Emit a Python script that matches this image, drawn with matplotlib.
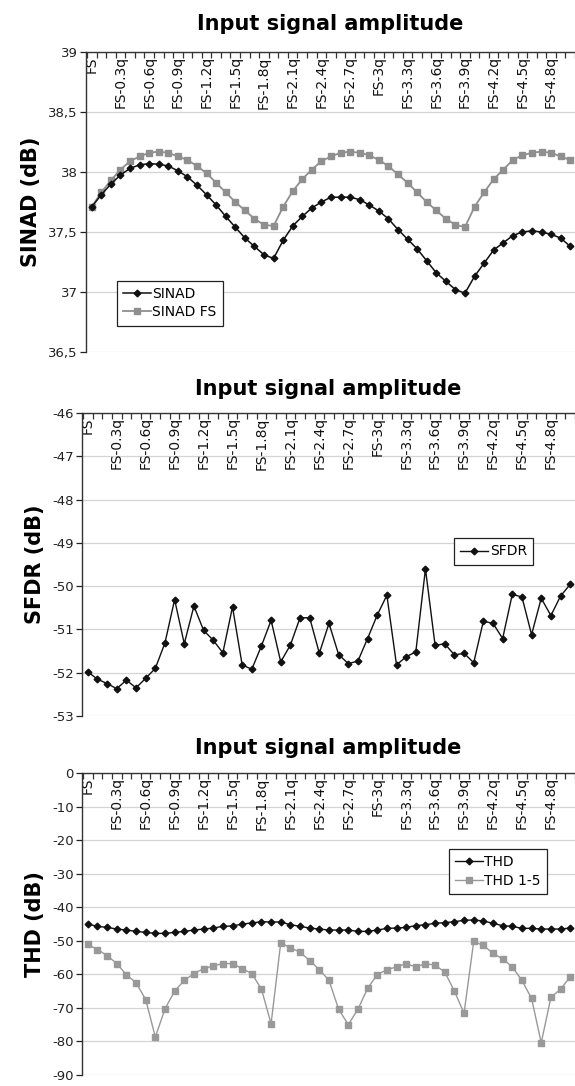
import numpy as np
import matplotlib
matplotlib.use("Agg")
from matplotlib import pyplot as plt

plt.rcParams['font.family'] = ['DejaVu Sans']
plt.rcParams['axes.unicode_minus'] = False

# amplitude steps: FS, FS-0.1q ... FS-5q
steps = np.arange(51)
step_labels = ["FS"] + ["FS-%gq" % (k / 10) for k in range(3, 49, 3)]
label_pos = np.arange(0, 49, 3)

sinad = [37.71, 37.81, 37.90, 37.975, 38.03, 38.06, 38.07, 38.065, 38.05, 38.01,
         37.96, 37.89, 37.81, 37.725, 37.63, 37.54, 37.45, 37.38, 37.31, 37.28,
         37.43, 37.55, 37.63, 37.70, 37.75, 37.79, 37.79, 37.79, 37.77, 37.725,
         37.675, 37.61, 37.52, 37.44, 37.36, 37.26, 37.16, 37.09, 37.02, 36.99,
         37.13, 37.24, 37.35, 37.41, 37.47, 37.50, 37.51, 37.50, 37.48, 37.45,
         37.38]
sinad_fs = [37.71, 37.83, 37.93, 38.02, 38.09, 38.13, 38.16, 38.17, 38.16, 38.13,
            38.10, 38.05, 37.99, 37.91, 37.83, 37.75, 37.68, 37.61, 37.56, 37.55,
            37.71, 37.84, 37.94, 38.02, 38.09, 38.13, 38.16, 38.17, 38.16, 38.14,
            38.10, 38.05, 37.98, 37.91, 37.83, 37.75, 37.68, 37.61, 37.56, 37.54,
            37.71, 37.83, 37.94, 38.02, 38.10, 38.14, 38.16, 38.17, 38.16, 38.13,
            38.10]
sfdr = [-51.98, -52.15, -52.25, -52.37, -52.17, -52.35, -52.13, -51.90, -51.31, -50.31,
        -51.33, -50.46, -51.02, -51.25, -51.54, -50.48, -51.82, -51.92, -51.38, -50.79,
        -51.75, -51.36, -50.73, -50.73, -51.55, -50.86, -51.58, -51.79, -51.73, -51.21,
        -50.67, -50.21, -51.82, -51.63, -51.52, -49.60, -51.37, -51.33, -51.59, -51.55,
        -51.77, -50.81, -50.86, -51.21, -50.19, -50.25, -51.12, -50.28, -50.68, -50.23,
        -49.96]
thd = [-45.0, -45.7, -46.0, -46.5, -46.8, -47.2, -47.5, -47.8, -47.8, -47.5,
       -47.2, -46.8, -46.5, -46.2, -45.7, -45.6, -45.0, -44.7, -44.3, -44.4,
       -44.4, -45.2, -45.7, -46.2, -46.5, -46.8, -46.8, -46.8, -47.2, -47.2,
       -46.8, -46.3, -46.2, -46.0, -45.5, -45.2, -44.8, -44.6, -44.3, -43.9,
       -43.8, -44.1, -44.8, -45.5, -45.7, -46.3, -46.3, -46.5, -46.5, -46.5,
       -46.2]
thd_15 = [-51.1, -52.6, -54.4, -56.8, -60.1, -62.5, -67.5, -78.7, -70.3, -65.0,
          -61.8, -59.8, -58.3, -57.5, -56.8, -56.8, -58.3, -59.8, -64.4, -74.7,
          -50.6, -52.1, -53.4, -55.9, -58.6, -61.8, -70.4, -75.0, -70.4, -64.2,
          -60.1, -58.6, -57.8, -56.8, -57.8, -56.8, -57.3, -59.3, -65.0, -71.6,
          -50.2, -51.4, -53.7, -55.4, -57.8, -61.8, -67.2, -80.4, -66.9, -64.4,
          -60.8]

W, H = 575, 1086
fig = plt.figure(figsize=(W / 100, H / 100), dpi=100)


def add_panel(left, top, bottom):
    return fig.add_axes([left / W, 1 - bottom / H, (W - left) / W, (bottom - top) / H])


def style_panel(ax, ymin, ymax, ystep, ylabel, comma=False, title_pad=14):
    ax.set_xlim(-0.6, 50.2)
    ax.set_ylim(ymin, ymax)
    yt = np.arange(ymin, ymax + ystep / 2, ystep)
    ax.set_yticks(yt)
    if comma:
        ax.set_yticklabels([("%g" % v).replace(".", ",") for v in yt])
    ax.yaxis.grid(True, color="#d4d4d4", linewidth=0.9)
    ax.set_axisbelow(True)
    for s in ["right", "bottom"]:
        ax.spines[s].set_visible(False)
    for s in ["left", "top"]:
        ax.spines[s].set_linewidth(1.0)
        ax.spines[s].set_color("#333333")
    # y ticks outward
    ax.tick_params(axis="y", direction="out", length=4, width=0.9, labelsize=9.5,
                   pad=2, colors="#222222")
    # category axis on top: tick marks between categories, labels hanging inside
    ax.xaxis.tick_top()
    ax.set_xticks(label_pos)
    ax.set_xticklabels(step_labels, rotation=90, fontsize=10)
    ax.set_xticks(np.arange(-0.5, 51, 1), minor=True)
    ax.tick_params(axis="x", which="major", length=0, pad=-3, labeltop=True,
                   labelbottom=False, colors="#111111")
    ax.tick_params(axis="x", which="minor", direction="in", length=4, width=0.9,
                   top=True, bottom=False, color="#333333")
    for lab in ax.get_xticklabels():
        lab.set_va("top")
    ax.xaxis.set_zorder(1.5)
    ax.set_ylabel(ylabel, fontsize=15, fontweight="bold", labelpad=5)
    ax.set_title("Input signal amplitude", fontsize=15, fontweight="bold", pad=title_pad)


def add_legend(ax, x, y, handles=None, labels=None):
    if handles is None:
        handles, labels = ax.get_legend_handles_labels()
    leg = ax.legend(handles, labels, loc="upper left", bbox_to_anchor=(x, y),
                    borderaxespad=0, fontsize=10, fancybox=False, framealpha=1,
                    edgecolor="#222222", handlelength=2.0, handletextpad=0.1,
                    borderpad=0.45, labelspacing=0.3)
    leg.get_frame().set_linewidth(0.9)


# SINAD
ax1 = add_panel(86, 52, 352)
ax1.plot(steps, sinad_fs, color="#8f8f8f", marker="s", markersize=4.5, linewidth=1.3,
         label="SINAD FS")
ax1.plot(steps, sinad, color="#111111", marker="D", markersize=3.4, linewidth=1.1,
         label="SINAD")
style_panel(ax1, 36.5, 39, 0.5, "SINAD (dB)", comma=True, title_pad=16)
h, l = ax1.get_legend_handles_labels()
add_legend(ax1, 0.063, 0.237, h[::-1], l[::-1])

# SFDR
ax2 = add_panel(82, 413, 716)
ax2.plot(steps, sfdr, color="#111111", marker="D", markersize=3.4, linewidth=1.0,
         label="SFDR")
style_panel(ax2, -53, -46, 1, "SFDR (dB)", title_pad=13)
add_legend(ax2, 0.755, 0.587)

# THD
ax3 = add_panel(82, 773, 1075)
ax3.plot(steps, thd, color="#111111", marker="D", markersize=3.4, linewidth=1.0,
         label="THD")
ax3.plot(steps, thd_15, color="#999999", marker="s", markersize=4.5, linewidth=1.0,
         label="THD 1-5")
style_panel(ax3, -90, 0, 10, "THD (dB)", title_pad=14)
add_legend(ax3, 0.744, 0.748)

fig.savefig("out.png", dpi=100)
